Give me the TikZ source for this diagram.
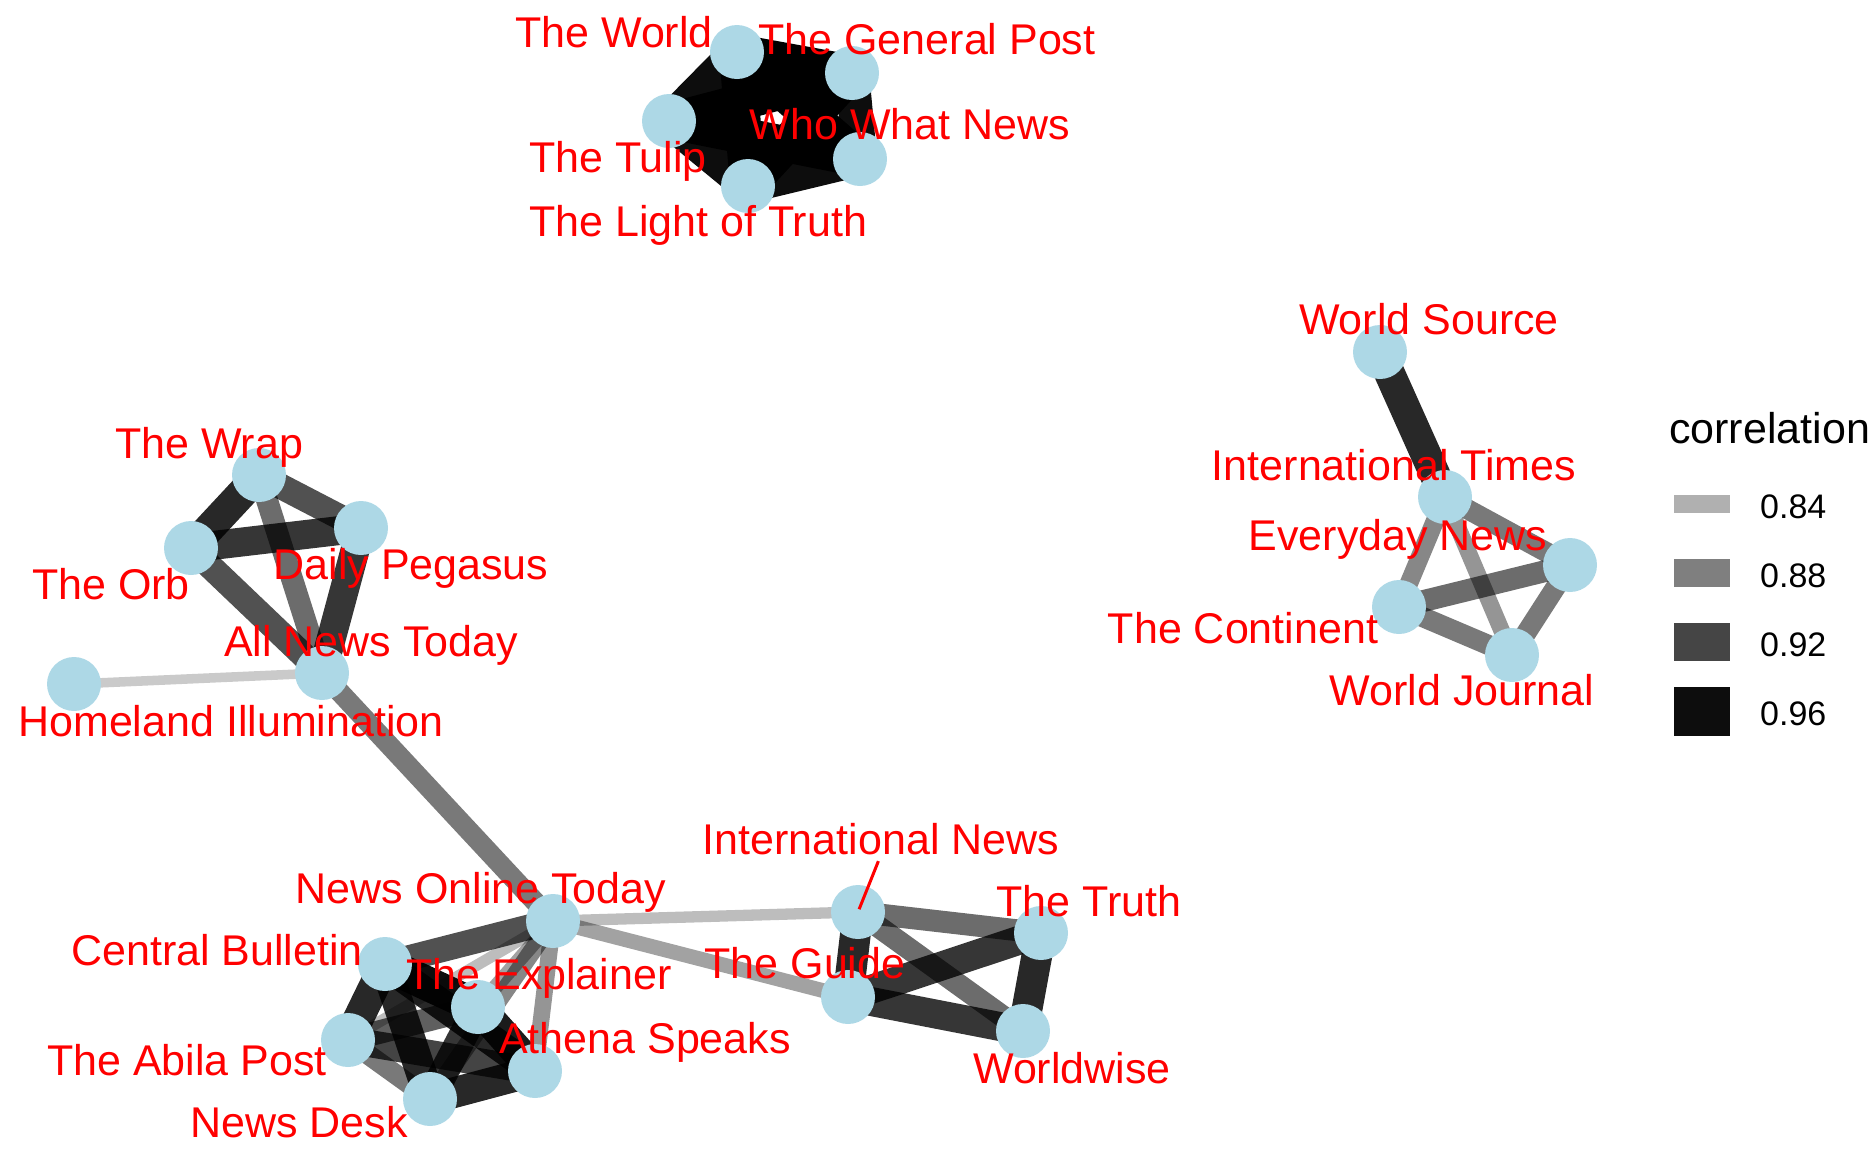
\documentclass[tikz,border=0pt]{standalone}
\usepackage{fontspec}
\setmainfont{Liberation Sans}
\usetikzlibrary{backgrounds}
\definecolor{nodeblue}{HTML}{ADD8E6}
\tikzset{corr/.code={\pgfmathsetmacro\corrt{(#1-0.8)/0.17}%
    \pgfmathsetmacro\corrop{0.1+0.9*\corrt}%
    \pgfmathsetmacro\corrw{6*(1+5*\corrt)}%
    \pgfkeysalso{/tikz/line width=\corrw pt, /tikz/draw opacity=\corrop}}}

\begin{document}
\begin{tikzpicture}[x=1pt, y=-1pt,
    paper/.style={circle, fill=nodeblue, minimum size=54pt, inner sep=0pt},
    papername/.style={anchor=base, text=red, inner sep=0pt, font=\fontsize{43}{50}\selectfont},
    legendkey/.style={rectangle, fill=black, minimum width=56pt, inner sep=0pt}]
    \useasboundingbox (0,0) rectangle (1872,1152);

    % Draw nodes
    \node[paper] (world) at (737,52) {};
    \node[paper] (genpost) at (852,73) {};
    \node[paper] (tulip) at (669,121) {};
    \node[paper] (whowhat) at (860,159) {};
    \node[paper] (lighttruth) at (748,186) {};

    \node[paper] (wrap) at (259,475) {};
    \node[paper] (pegasus) at (361,528) {};
    \node[paper] (orb) at (191,548) {};
    \node[paper] (allnews) at (322,673) {};
    \node[paper] (homeland) at (74,684) {};

    \node[paper] (online) at (553,921) {};
    \node[paper] (central) at (385,964) {};
    \node[paper] (explainer) at (478,1007) {};
    \node[paper] (abila) at (348,1040) {};
    \node[paper] (athena) at (535,1071) {};
    \node[paper] (desk) at (430,1099) {};

    \node[paper] (intnews) at (858,912) {};
    \node[paper] (truth) at (1041,933) {};
    \node[paper] (guide) at (848,997) {};
    \node[paper] (worldwise) at (1023,1031) {};

    \node[paper] (source) at (1380,352) {};
    \node[paper] (inttimes) at (1445,497) {};
    \node[paper] (everyday) at (1570,565) {};
    \node[paper] (continent) at (1399,607) {};
    \node[paper] (journal) at (1512,655) {};

    % Draw connections
    \begin{pgfonlayer}{background}
    \draw[corr=0.97] (world.center) -- (genpost.center);
    \draw[corr=0.96] (world.center) -- (tulip.center);
    \draw[corr=0.97] (world.center) -- (whowhat.center);
    \draw[corr=0.97] (world.center) -- (lighttruth.center);
    \draw[corr=0.97] (genpost.center) -- (tulip.center);
    \draw[corr=0.96] (genpost.center) -- (whowhat.center);
    \draw[corr=0.97] (genpost.center) -- (lighttruth.center);
    \draw[corr=0.97] (tulip.center) -- (whowhat.center);
    \draw[corr=0.96] (tulip.center) -- (lighttruth.center);
    \draw[corr=0.96] (whowhat.center) -- (lighttruth.center);

    \draw[corr=0.94] (wrap.center) -- (orb.center);
    \draw[corr=0.91] (wrap.center) -- (pegasus.center);
    \draw[corr=0.89] (wrap.center) -- (allnews.center);
    \draw[corr=0.93] (orb.center) -- (pegasus.center);
    \draw[corr=0.91] (orb.center) -- (allnews.center);
    \draw[corr=0.93] (pegasus.center) -- (allnews.center);
    \draw[corr=0.82] (homeland.center) -- (allnews.center);
    \draw[corr=0.88] (allnews.center) -- (online.center);

    \draw[corr=0.91] (online.center) -- (central.center);
    \draw[corr=0.83] (online.center) -- (abila.center);
    \draw[corr=0.85] (online.center) -- (explainer.center);
    \draw[corr=0.87] (online.center) -- (desk.center);
    \draw[corr=0.86] (online.center) -- (athena.center);
    \draw[corr=0.94] (central.center) -- (abila.center);
    \draw[corr=0.96] (central.center) -- (explainer.center);
    \draw[corr=0.94] (central.center) -- (desk.center);
    \draw[corr=0.94] (central.center) -- (athena.center);
    \draw[corr=0.90] (abila.center) -- (explainer.center);
    \draw[corr=0.88] (abila.center) -- (desk.center);
    \draw[corr=0.92] (abila.center) -- (athena.center);
    \draw[corr=0.93] (explainer.center) -- (desk.center);
    \draw[corr=0.95] (explainer.center) -- (athena.center);
    \draw[corr=0.94] (desk.center) -- (athena.center);
    \draw[corr=0.83] (online.center) -- (intnews.center);
    \draw[corr=0.85] (online.center) -- (guide.center);

    \draw[corr=0.89] (intnews.center) -- (truth.center);
    \draw[corr=0.94] (intnews.center) -- (guide.center);
    \draw[corr=0.89] (intnews.center) -- (worldwise.center);
    \draw[corr=0.93] (guide.center) -- (truth.center);
    \draw[corr=0.93] (guide.center) -- (worldwise.center);
    \draw[corr=0.94] (truth.center) -- (worldwise.center);

    \draw[corr=0.94] (source.center) -- (inttimes.center);
    \draw[corr=0.88] (inttimes.center) -- (everyday.center);
    \draw[corr=0.87] (inttimes.center) -- (continent.center);
    \draw[corr=0.86] (inttimes.center) -- (journal.center);
    \draw[corr=0.89] (continent.center) -- (everyday.center);
    \draw[corr=0.88] (continent.center) -- (journal.center);
    \draw[corr=0.88] (everyday.center) -- (journal.center);
    \end{pgfonlayer}

    % Labels
    \node[papername] (world-l) at (614,47) {The World};
    \node[papername] (genpost-l) at (927,54) {The General Post};
    \node[papername] (whowhat-l) at (910,139) {Who What News};
    \node[papername] (tulip-l) at (618,172) {The Tulip};
    \node[papername] (lighttruth-l) at (698,236) {The Light of Truth};

    \node[papername] (wrap-l) at (209,458) {The Wrap};
    \node[papername] (pegasus-l) at (411,579) {Daily Pegasus};
    \node[papername] (orb-l) at (111,599) {The Orb};
    \node[papername] (allnews-l) at (371,656) {All News Today};
    \node[papername] (homeland-l) at (231,736) {Homeland Illumination};

    \node[papername] (online-l) at (481,903) {News Online Today};
    \node[papername] (central-l) at (217,965) {Central Bulletin};
    \node[papername] (explainer-l) at (539,989) {The Explainer};
    \node[papername] (abila-l) at (187,1075) {The Abila Post};
    \node[papername] (athena-l) at (645,1053) {Athena Speaks};
    \node[papername] (desk-l) at (299,1137) {News Desk};

    \node[papername] (intnews-l) at (881,854) {International News};
    \node[papername] (truth-l) at (1089,916) {The Truth};
    \node[papername] (guide-l) at (805,978) {The Guide};
    \node[papername] (worldwise-l) at (1072,1083) {Worldwise};
    \draw[red, line width=3pt, shorten <=7pt, shorten >=3pt] (intnews-l.south) -- (intnews.center);

    \node[papername] (source-l) at (1429,334) {World Source};
    \node[papername] (inttimes-l) at (1394,480) {International Times};
    \node[papername] (everyday-l) at (1398,550) {Everyday News};
    \node[papername] (continent-l) at (1243,643) {The Continent};
    \node[papername] (journal-l) at (1462,705) {World Journal};

    % Legend
    \node[anchor=base west, inner sep=0pt, font=\fontsize{43}{50}\selectfont] (legtitle) at (1669,443) {correlation};
    \node[legendkey, minimum height=18pt, fill opacity=0.31] (key84) at (1702,504) {};
    \node[legendkey, minimum height=28pt, fill opacity=0.50] (key88) at (1702,573) {};
    \node[legendkey, minimum height=38pt, fill opacity=0.73] (key92) at (1702,642) {};
    \node[legendkey, minimum height=49pt, fill opacity=0.95] (key96) at (1702,711) {};
    \node[anchor=west, inner sep=0pt, font=\fontsize{34}{40}\selectfont] (val84) at (1760,507) {0.84};
    \node[anchor=west, inner sep=0pt, font=\fontsize{34}{40}\selectfont] (val88) at (1760,576) {0.88};
    \node[anchor=west, inner sep=0pt, font=\fontsize{34}{40}\selectfont] (val92) at (1760,645) {0.92};
    \node[anchor=west, inner sep=0pt, font=\fontsize{34}{40}\selectfont] (val96) at (1760,714) {0.96};
\end{tikzpicture}
\end{document}
